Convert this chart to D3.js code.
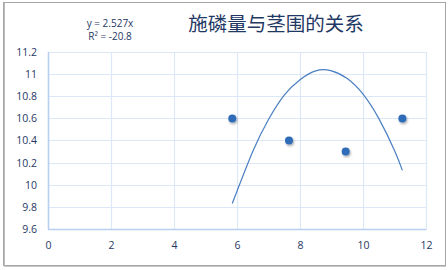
<!DOCTYPE html>
<html><head><meta charset="utf-8">
<script src="https://cdn.jsdelivr.net/npm/d3@7"></script>
<style>
html,body{margin:0;padding:0;background:#fff;}
svg{display:block;}
</style></head>
<body>
<svg id="c" width="448" height="270"></svg>
<script>
const title = "施磷量与茎围的关系";
const equationLines = ["y = 2.527x", "R² = -20.8"];
const xTicks = [0, 2, 4, 6, 8, 10, 12];
const yTicks = [9.6, 9.8, 10, 10.2, 10.4, 10.6, 10.8, 11, 11.2];
const pointX = [5.85, 7.65, 9.45, 11.25];
const pointY = [10.6, 10.4, 10.3, 10.6];
// trendline
const trendX = [5.85, 6.5, 7, 7.5, 8, 8.5, 9, 9.5, 10, 10.5, 11, 11.25];
const trendY = [9.83, 10.30, 10.59, 10.81, 10.95, 11.03, 11.03, 10.96, 10.82, 10.60, 10.31, 10.13];

const svg = d3.select("#c");
const L = 48, R = 426, T = 52, B = 229;

// frame
svg.append("rect").attr("x", 3.5).attr("y", 2.5).attr("width", 442).attr("height", 263)
  .attr("fill", "#fff").attr("stroke", "#a6a6a6").attr("stroke-width", 1);
svg.append("line").attr("x1", 4.5).attr("x2", 4.5).attr("y1", 3).attr("y2", 266)
  .attr("stroke", "#bdbdbd").attr("stroke-width", 1);
svg.append("line").attr("x1", 4).attr("x2", 446).attr("y1", 266.5).attr("y2", 266.5)
  .attr("stroke", "#c8c8c8").attr("stroke-width", 1);

const x = d3.scaleLinear().domain([0, 12]).range([L, R]);
const y = d3.scaleLinear().domain([9.6, 11.2]).range([B, T]);

const defs = svg.append("defs");
const f = defs.append("filter").attr("id", "sh").attr("x", "-50%").attr("y", "-50%").attr("width", "200%").attr("height", "200%");
f.append("feDropShadow").attr("dx", 1).attr("dy", 1.5).attr("stdDeviation", 1).attr("flood-color", "#000").attr("flood-opacity", 0.35);

// gridlines
const g = svg.append("g");
g.selectAll(".gy").data(yTicks).join("line")
  .attr("x1", L).attr("x2", R)
  .attr("y1", d => Math.round(y(d)) + 0.5).attr("y2", d => Math.round(y(d)) + 0.5)
  .attr("stroke", "#dce8f8").attr("stroke-width", 1.2);
g.selectAll(".gx").data(xTicks).join("line")
  .attr("y1", T).attr("y2", B)
  .attr("x1", d => Math.round(x(d)) + 0.5).attr("x2", d => Math.round(x(d)) + 0.5)
  .attr("stroke", "#dce8f8").attr("stroke-width", 1.2);

// axes lines
svg.append("line").attr("x1", L + 0.5).attr("x2", L + 0.5).attr("y1", T).attr("y2", B + 0.5)
  .attr("stroke", "#b7cff0").attr("stroke-width", 1.5);
svg.append("line").attr("x1", L).attr("x2", R + 0.5).attr("y1", B + 0.5).attr("y2", B + 0.5)
  .attr("stroke", "#b7cff0").attr("stroke-width", 1.5);

// tick labels via axes
const yAxis = d3.axisLeft(y).tickValues(yTicks).tickSize(0).tickPadding(11)
  .tickFormat(d => d3.format("~g")(d));
const ya = svg.append("g").attr("transform", `translate(${L},0)`).call(yAxis);
const xAxis = d3.axisBottom(x).tickValues(xTicks).tickSize(0).tickPadding(13).tickFormat(d3.format("d"));
const xa = svg.append("g").attr("transform", `translate(0,${B})`).call(xAxis);
[ya, xa].forEach(a => {
  a.select(".domain").remove();
  a.selectAll("text").attr("fill", "#1f3864").attr("font-family", "'Open Sans', 'Liberation Sans', sans-serif").attr("font-size", 10.5);
});

// trendline
const pts = trendX.map((d, i) => [d, trendY[i]]);
svg.append("path").datum(pts)
  .attr("d", d3.line().x(d => x(d[0])).y(d => y(d[1])).curve(d3.curveNatural))
  .attr("fill", "none").attr("stroke", "#4a7ec2").attr("stroke-width", 1.2);

// points
svg.selectAll(".pt").data(pointX.map((d, i) => [d, pointY[i]])).join("circle")
  .attr("cx", d => x(d[0])).attr("cy", d => y(d[1])).attr("r", 4)
  .attr("fill", "#2f6cb8").attr("filter", "url(#sh)");

// title
svg.append("text").text(title).attr("x", 276).attr("y", 31)
  .attr("text-anchor", "middle").attr("font-size", 19.5)
  .attr("font-family", "'Noto Sans CJK SC', sans-serif").attr("fill", "#1f3864");

// equation
svg.selectAll(".eq").data(equationLines).join("text")
  .text(d => d).attr("x", 110).attr("y", (d, i) => 27 + i * 13)
  .attr("text-anchor", "middle").attr("font-size", 10)
  .attr("font-family", "'Open Sans', 'Liberation Sans', sans-serif").attr("fill", "#1f3864");
</script>
</body></html>
